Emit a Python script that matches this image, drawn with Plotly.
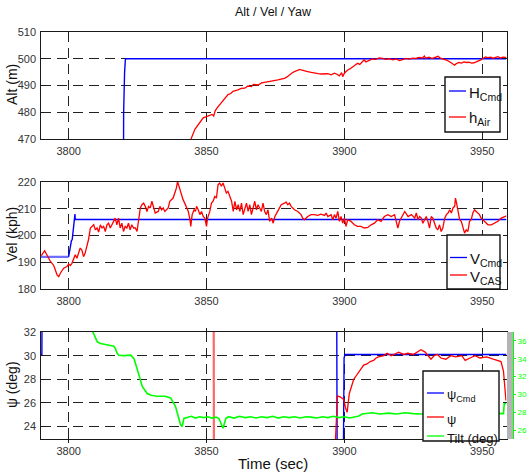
import plotly.graph_objects as go

# ---------------- data ----------------
x_ticks = [3800, 3850, 3900, 3950]

# Panel 1: altitude
h_cmd_t = [3789.8, 3819.9, 3819.95, 3820.1, 3820.3, 3820.6, 3958.8]
h_cmd_v = [460, 460, 480, 490, 495, 500, 500]

h_air_t = [3843.5, 3844.5, 3845.8, 3846.8, 3847.6, 3848.8, 3850.0, 3851.0, 3852.0, 3852.6,
           3853.2, 3854.0, 3854.8, 3855.7, 3856.6, 3857.8, 3858.8, 3859.6, 3861.4, 3862.6,
           3863.9, 3865.0, 3866.3, 3867.0, 3868.7, 3870.0, 3871.0, 3872.3, 3873.5, 3875.0,
           3875.9, 3877.0, 3878.3, 3879.2, 3880.1, 3881.0, 3881.9, 3883.0, 3883.8, 3884.3,
           3885.5, 3886.7, 3888.0, 3889.2, 3890.5, 3891.6, 3893.0, 3894.0, 3895.2, 3896.4,
           3897.3, 3898.2, 3899.0, 3899.4, 3900.0, 3901.2, 3902.0, 3903.0, 3904.0, 3904.8,
           3905.6, 3906.6, 3907.2, 3907.8, 3909.0, 3910.2, 3911.4, 3912.6, 3913.9, 3915.0,
           3916.3, 3917.5, 3918.7, 3920.0, 3921.1, 3922.3, 3923.5, 3924.7, 3925.9, 3927.1,
           3928.3, 3929.0, 3929.5, 3930.7, 3931.9, 3933.1, 3934.0, 3934.8, 3935.5, 3936.4,
           3937.3, 3938.3, 3939.2, 3940.0, 3940.6, 3941.6, 3942.5, 3943.4, 3944.3, 3945.2,
           3946.1, 3947.0, 3948.0, 3948.8, 3949.5, 3950.2, 3951.2, 3952.0, 3953.0, 3954.0,
           3954.8, 3955.7, 3956.6, 3957.5, 3958.4, 3958.8]
h_air_v = [468.5, 470.3, 473.6, 475.0, 476.2, 477.9, 478.4, 478.8, 479.2, 478.6,
           480.6, 481.8, 482.8, 484.0, 485.3, 486.6, 487.0, 487.8, 488.4, 488.9,
           489.0, 489.8, 489.6, 490.4, 490.2, 491.0, 491.2, 491.4, 491.5, 491.9,
           492.1, 492.4, 492.7, 493.2, 494.0, 494.7, 495.2, 495.5, 496.0, 495.8,
           495.4, 495.2, 494.9, 494.6, 494.4, 494.3, 494.3, 494.4, 494.0, 494.6,
           494.2, 493.6, 494.8, 493.3, 494.6, 495.8, 496.2, 497.0, 497.6, 498.3,
           497.9, 498.9, 499.6, 498.8, 499.5, 499.9, 499.8, 500.3, 500.1, 499.8,
           500.0, 499.6, 499.9, 499.3, 499.7, 500.1, 499.9, 500.2, 500.1, 500.5,
           500.3, 501.0, 500.2, 500.6, 500.1, 500.4, 500.9, 500.2, 500.0, 499.7,
           499.4, 498.8, 498.3, 497.6, 498.2, 498.6, 498.4, 498.8, 498.6, 498.7,
           498.4, 498.5, 498.9, 499.2, 499.6, 500.1, 500.7, 500.4, 500.6, 500.2,
           500.5, 500.8, 500.3, 500.6, 500.5, 500.4]

# Panel 2: velocity
v_cmd_t = [3800.0, 3800.5, 3801.0, 3801.3, 3801.8, 3802.1, 3802.3, 3802.4, 3958.8]
v_cmd_v = [192, 196, 198, 198.5, 203, 206, 208, 206, 206]
v_cmd0_t = [3789.8, 3800.0]
v_cmd0_v = [192, 192]

v_cas_t = [3790.1, 3791.3, 3792.1, 3793.4, 3794.6, 3795.8, 3796.4, 3797.0, 3798.2, 3799.4,
           3800.0, 3800.6, 3801.2, 3801.8, 3802.4, 3803.0, 3803.6, 3804.2, 3804.8, 3805.4,
           3806.0, 3806.6, 3807.2, 3807.9, 3808.5, 3809.1, 3809.7, 3810.3, 3810.9, 3811.5,
           3812.1, 3812.7, 3813.3, 3813.9, 3814.5, 3815.1, 3815.7, 3816.3, 3816.9, 3817.5,
           3818.1, 3818.7, 3819.3, 3819.9, 3820.5, 3821.1, 3821.7, 3822.3, 3822.9, 3823.6,
           3824.2, 3824.8, 3825.4, 3826.0, 3826.6, 3827.2, 3827.8, 3828.4, 3829.0, 3829.6,
           3830.2, 3830.8, 3831.4, 3832.5, 3833.1, 3833.7, 3834.3, 3834.9, 3835.5, 3836.1,
           3836.7, 3837.3, 3837.9, 3838.5, 3839.1, 3839.5, 3840.0, 3840.3, 3840.9, 3841.5,
           3842.1, 3842.8, 3843.4, 3844.0, 3844.3, 3844.8, 3845.5, 3846.0, 3846.4, 3847.0,
           3847.6, 3848.2, 3848.8, 3849.4, 3850.0, 3850.4, 3851.2, 3851.8, 3852.4, 3853.0,
           3853.6, 3854.2, 3854.8, 3855.4, 3856.0, 3856.6, 3857.2, 3857.8, 3858.5, 3859.1,
           3859.7, 3860.3, 3860.9, 3861.5, 3862.1, 3862.7, 3863.3, 3863.9, 3864.5, 3865.1,
           3865.7, 3866.3, 3866.9, 3867.5, 3868.1, 3868.7, 3869.3, 3869.9, 3870.5, 3871.1,
           3871.7, 3872.3, 3872.9, 3873.6, 3874.2, 3874.8, 3875.8, 3877.1, 3878.3, 3878.9,
           3879.5, 3880.1, 3880.7, 3881.9, 3883.1, 3884.3, 3884.9, 3885.5, 3886.7, 3887.9,
           3889.1, 3890.3, 3891.5, 3892.8, 3893.4, 3894.0, 3895.2, 3895.8, 3896.4, 3897.0,
           3897.6, 3898.2, 3898.8, 3899.4, 3900.0, 3900.6, 3901.2, 3902.4, 3903.6, 3904.8,
           3906.0, 3907.2, 3908.5, 3909.7, 3910.9, 3912.1, 3913.3, 3914.5, 3915.8, 3917.0,
           3918.2, 3919.4, 3920.0, 3920.7, 3921.3, 3921.9, 3923.1, 3924.3, 3925.5, 3926.1,
           3926.7, 3927.3, 3927.9, 3928.5, 3929.1, 3929.7, 3930.3, 3930.9, 3931.5, 3932.1,
           3932.7, 3933.3, 3933.9, 3934.5, 3935.1, 3935.7, 3936.4, 3937.0, 3937.6, 3938.2,
           3938.8, 3939.4, 3940.0, 3940.3, 3940.7, 3941.2, 3941.8, 3942.4, 3943.0, 3943.6,
           3944.2, 3944.8, 3945.4, 3946.0, 3946.6, 3947.2, 3947.8, 3948.4, 3949.0, 3949.6,
           3950.2, 3950.8, 3952.1, 3953.3, 3954.5, 3955.7, 3956.9, 3958.1, 3958.8]
v_cas_v = [192.5, 194.3, 192.8, 190.3, 188.8, 185.3, 184.6, 185.9, 187.8, 188.4,
           189.3, 188.8, 189.6, 191.5, 192.8, 191.5, 193.4, 195.3, 194.6, 192.1,
           193.4, 195.9, 198.4, 202.8, 203.4, 204.0, 202.1, 202.8, 201.3, 204.0,
           202.8, 203.4, 201.5, 204.0, 204.6, 202.8, 204.0, 205.3, 206.5, 204.0,
           206.5, 202.8, 204.6, 201.5, 203.4, 202.8, 204.6, 202.1, 204.0, 202.8,
           202.8, 201.5, 206.5, 210.3, 211.5, 212.1, 210.9, 209.0, 210.9, 210.3,
           212.8, 210.3, 208.4, 209.0, 210.9, 209.6, 210.3, 209.0, 209.6, 210.3,
           212.8, 213.4, 214.0, 215.9, 217.8, 220.2, 218.4, 217.1, 215.9, 213.4,
           212.1, 210.3, 209.0, 205.9, 203.4, 207.8, 209.6, 209.0, 210.9, 209.6,
           207.8, 209.0, 207.1, 206.5, 203.4, 206.5, 209.0, 212.1, 212.8, 214.6,
           214.0, 219.0, 219.6, 218.4, 219.6, 217.8, 215.9, 216.5, 214.0, 212.8,
           209.0, 212.8, 209.6, 211.5, 209.0, 212.1, 207.8, 210.3, 212.1, 209.0,
           211.5, 207.8, 210.9, 212.8, 209.6, 211.5, 210.3, 209.0, 212.1, 209.0,
           207.8, 209.6, 205.3, 206.5, 204.6, 207.1, 209.0, 211.5, 212.1, 212.5,
           211.5, 212.1, 210.9, 209.6, 209.0, 207.8, 206.5, 205.9, 207.1, 207.8,
           207.8, 207.5, 208.0, 207.5, 208.4, 207.1, 207.8, 205.9, 207.8, 206.5,
           209.0, 205.3, 207.1, 204.6, 206.5, 203.4, 205.9, 205.3, 204.0, 203.4,
           203.4, 202.8, 203.0, 204.0, 204.6, 205.9, 205.3, 207.1, 207.8, 207.1,
           207.8, 202.8, 205.3, 206.5, 207.8, 209.0, 207.1, 207.8, 206.5, 208.4,
           205.9, 207.1, 206.5, 204.6, 205.9, 207.1, 205.3, 202.8, 207.1, 206.5,
           204.6, 202.8, 202.1, 204.0, 201.5, 202.8, 206.5, 207.8, 208.4, 209.6,
           208.4, 210.3, 210.9, 214.0, 212.1, 209.6, 205.9, 205.3, 202.8, 200.9,
           202.1, 201.5, 205.3, 205.9, 208.4, 209.6, 209.0, 208.4, 207.8, 206.5,
           205.9, 205.3, 204.0, 204.0, 204.6, 205.3, 206.5, 207.1, 207.3]

# Panel 3: heading (left axis) and tilt (right axis)
psi_cmd_t = [3789.8, 3790.3, 3790.4, 3897.2, 3897.4, 3899.6, 3899.9, 3900.2, 3958.8]
psi_cmd_v = [30.1, 30.1, 36, 36, 20, 20, 29.8, 30.1, 30.1]

psi_wrap_t = [3852.6, 3852.7]
psi_wrap_v = [36, 20]

psi_t = [3896.6, 3897.0, 3897.5, 3898.6, 3899.8, 3900.4, 3901.0, 3901.8, 3902.5, 3903.4,
         3904.3, 3905.2, 3906.1, 3907.0, 3908.2, 3909.4, 3910.6, 3911.5, 3912.4, 3914.3,
         3915.5, 3917.0, 3918.0, 3919.7, 3921.5, 3923.0, 3925.0, 3926.5, 3927.8, 3929.3,
         3930.3, 3931.4, 3932.6, 3933.8, 3935.0, 3936.8, 3938.6, 3940.4, 3942.6, 3943.8,
         3945.6, 3947.4, 3949.2, 3951.6, 3954.0, 3955.5, 3956.8, 3957.7, 3958.2, 3958.6]
psi_v = [22.0, 24.5, 26.6, 26.5, 26.3, 25.6, 25.2, 26.8, 27.4, 28.0,
         28.3, 28.6, 29.0, 29.2, 29.3, 29.5, 29.6, 29.8, 29.9, 30.0,
         30.2, 30.0, 30.1, 30.3, 30.1, 30.2, 30.1, 30.3, 30.5, 30.3,
         30.0, 29.7, 30.0, 30.1, 29.8, 29.7, 30.0, 29.9, 30.0, 29.6,
         29.8, 30.0, 29.8, 29.9, 29.7, 29.6, 29.5, 28.7, 27.5, 26.2]

tilt_t = [3789.8, 3808.5, 3808.8, 3810.4, 3811.6, 3813.0, 3814.5, 3816.4, 3817.0, 3817.6,
          3818.2, 3820.0, 3822.5, 3823.7, 3825.0, 3826.7, 3828.5, 3830.0, 3832.0, 3835.0,
          3837.0, 3838.8, 3840.6, 3841.2, 3841.8, 3843.0, 3844.5, 3846.0, 3847.5, 3849.0,
          3850.5, 3852.0, 3853.5, 3854.5, 3855.3, 3856.0, 3857.0, 3858.0, 3860.0, 3862.0,
          3864.0, 3866.0, 3868.0, 3870.0, 3872.0, 3874.0, 3876.0, 3878.0, 3880.0, 3882.0,
          3884.0, 3886.0, 3888.0, 3890.0, 3892.0, 3894.0, 3896.0, 3898.0, 3900.0, 3902.0,
          3904.0, 3905.0, 3906.5, 3908.0, 3910.0, 3913.0, 3916.0, 3919.0, 3922.0, 3925.0,
          3928.0, 3931.0, 3934.0, 3937.0, 3940.0, 3943.0, 3946.0, 3949.0, 3952.0, 3955.0,
          3957.7, 3958.0, 3958.8]
tilt_v = [39.0, 37.3, 37.0, 35.9, 35.7, 35.6, 35.5, 35.4, 35.1, 34.6,
          34.4, 34.35, 34.4, 34.0, 32.7, 30.9, 30.1, 29.9, 29.8, 29.8,
          29.6, 28.6, 26.6, 26.4, 27.3, 27.4, 27.55, 27.35, 27.5, 27.4,
          27.5, 27.35, 27.45, 27.3, 26.7, 26.2, 27.3, 27.5, 27.35, 27.55,
          27.4, 27.5, 27.35, 27.5, 27.4, 27.55, 27.35, 27.5, 27.4, 27.5,
          27.35, 27.5, 27.45, 27.35, 27.5, 27.4, 27.55, 27.4, 27.5, 27.35,
          27.5, 27.55, 27.8, 27.85, 27.95, 27.8, 27.9, 27.8, 27.95, 27.85,
          27.8, 27.9, 27.85, 27.95, 27.8, 27.9, 27.85, 27.8, 27.9, 27.85,
          27.85, 29.0, 29.0]

# ---------------- figure ----------------
W, H = 529, 473
FONT = "Liberation Sans, Arial, sans-serif"


def px(x):
    return x / W


def py(y):
    return 1 - y / H


X_RANGE = [3789.8, 3958.8]
X_DOM = [px(40.5), px(506.5)]
P1 = [py(139), py(32)]
P2 = [py(289), py(182)]
P3 = [py(439), py(332)]

BLUE = "#0000ff"
RED = "#ff0000"
GREEN = "#00ff00"

fig = go.Figure()

# panel 1
fig.add_trace(go.Scatter(x=h_cmd_t, y=h_cmd_v, mode="lines", line=dict(color=BLUE, width=1.4),
                         xaxis="x", yaxis="y"))
fig.add_trace(go.Scatter(x=h_air_t, y=h_air_v, mode="lines", line=dict(color=RED, width=1.3),
                         xaxis="x", yaxis="y"))
# panel 2
fig.add_trace(go.Scatter(x=v_cmd0_t, y=v_cmd0_v, mode="lines", line=dict(color="#6f6fff", width=2.2),
                         xaxis="x2", yaxis="y2"))
fig.add_trace(go.Scatter(x=v_cmd_t, y=v_cmd_v, mode="lines", line=dict(color=BLUE, width=1.4),
                         xaxis="x2", yaxis="y2"))
fig.add_trace(go.Scatter(x=v_cas_t, y=v_cas_v, mode="lines", line=dict(color=RED, width=1.3),
                         xaxis="x2", yaxis="y2"))
# panel 3
fig.add_trace(go.Scatter(x=tilt_t, y=tilt_v, mode="lines", line=dict(color=GREEN, width=1.6),
                         xaxis="x3", yaxis="y4"))
fig.add_trace(go.Scatter(x=psi_wrap_t, y=psi_wrap_v, mode="lines",
                         line=dict(color="rgba(255,40,40,0.7)", width=2.2),
                         xaxis="x3", yaxis="y3"))
fig.add_trace(go.Scatter(x=psi_cmd_t, y=psi_cmd_v, mode="lines", line=dict(color=BLUE, width=1.4),
                         xaxis="x3", yaxis="y3"))
fig.add_trace(go.Scatter(x=psi_t, y=psi_v, mode="lines", line=dict(color=RED, width=1.3),
                         xaxis="x3", yaxis="y3"))

axis_common = dict(
    showline=True, linecolor="#1a1a1a", linewidth=1.4, mirror="allticks",
    ticks="inside", ticklen=3, tickcolor="#1a1a1a", tickwidth=1,
    showgrid=True, gridcolor="#222222", gridwidth=1, griddash="10px,6px",
    zeroline=False, tickfont=dict(family=FONT, size=11, color="#333333"),
)

for ax, dom in [("", P1), ("2", P2), ("3", P3)]:
    fig.layout["xaxis" + ax] = dict(axis_common, domain=X_DOM, range=X_RANGE, tickvals=x_ticks,
                                    anchor="y" + ax, ticklabelstandoff=2)

fig.layout["yaxis"] = dict(axis_common, domain=P1, range=[470, 510], tickvals=[470, 480, 490, 500, 510],
                           anchor="x", ticklabelstandoff=1)
fig.layout["yaxis2"] = dict(axis_common, domain=P2, range=[180, 220], tickvals=[180, 190, 200, 210, 220],
                            anchor="x2", ticklabelstandoff=1)
fig.layout["yaxis3"] = dict(axis_common, domain=P3, range=[22.95, 32], tickvals=[24, 26, 28, 30, 32],
                            anchor="x3", ticklabelstandoff=1)
fig.layout["yaxis4"] = dict(overlaying="y3", side="right", anchor="free", position=px(513),
                            range=[25, 37], tickvals=[26, 28, 30, 32, 34, 36],
                            showline=True, linecolor=GREEN, linewidth=1, ticks="outside", ticklen=2,
                            tickcolor=GREEN, showgrid=False, zeroline=False,
                            tickfont=dict(family=FONT, size=8, color=GREEN))

shapes = []
# grey strip between the two right axes of panel 3
shapes.append(dict(type="rect", xref="paper", yref="paper", x0=px(507), x1=px(513), y0=P3[0], y1=P3[1],
                   fillcolor="#b4b4b4", line=dict(width=0), layer="above"))

annotations = []


def legend(box, items, line_x, text_x, size):
    x0, y0, x1, y1 = box
    shapes.append(dict(type="rect", xref="paper", yref="paper", x0=px(x0), x1=px(x1), y0=py(y1), y1=py(y0),
                       fillcolor="white", line=dict(color="#111111", width=1.4), layer="above"))
    for color, label, yy in items:
        shapes.append(dict(type="line", xref="paper", yref="paper", x0=px(line_x[0]), x1=px(line_x[1]),
                           y0=py(yy), y1=py(yy), line=dict(color=color, width=1.3), layer="above"))
        annotations.append(dict(xref="paper", yref="paper", x=px(text_x), y=py(yy + 2), text=label,
                                showarrow=False, xanchor="left", yanchor="middle",
                                font=dict(family=FONT, size=size, color="#111111")))


legend((445, 77, 500, 132), [(BLUE, "H<sub>Cmd</sub>", 91), (RED, "h<sub>Air</sub>", 117)],
       (449, 466), 467, 15)
legend((447, 235, 500, 289), [(BLUE, "V<sub>Cmd</sub>", 257.5), (RED, "V<sub>CAS</sub>", 275)],
       (450, 467), 468, 15)
legend((423, 371, 499, 441), [(BLUE, "ψ<sub>Cmd</sub>", 393), (RED, "ψ", 417), (GREEN, "Tilt (deg)", 436)],
       (427, 444), 445, 13)

# titles
annotations.append(dict(xref="paper", yref="paper", x=px(273), y=py(12), text="Alt / Vel / Yaw",
                        showarrow=False, xanchor="center", yanchor="middle",
                        font=dict(family=FONT, size=12.5, color="#111111")))
for txt, yy in [("Alt (m)", 85), ("Vel (kph)", 235), ("ψ (deg)", 385)]:
    annotations.append(dict(xref="paper", yref="paper", x=px(12), y=py(yy), text=txt, textangle=-90,
                            showarrow=False, xanchor="center", yanchor="middle",
                            font=dict(family=FONT, size=14, color="#111111")))
annotations.append(dict(xref="paper", yref="paper", x=px(273), y=py(463), text="Time (sec)",
                        showarrow=False, xanchor="center", yanchor="middle",
                        font=dict(family=FONT, size=15, color="#111111")))

fig.update_layout(
    width=W, height=H, margin=dict(l=0, r=0, t=0, b=0, autoexpand=False),
    paper_bgcolor="white", plot_bgcolor="white", showlegend=False,
    shapes=shapes, annotations=annotations,
)

fig.write_html("out.html", config={"displayModeBar": False},
               post_script="document.body.style.margin='0';document.body.style.padding='0';"
                           "document.documentElement.style.overflow='hidden';")
